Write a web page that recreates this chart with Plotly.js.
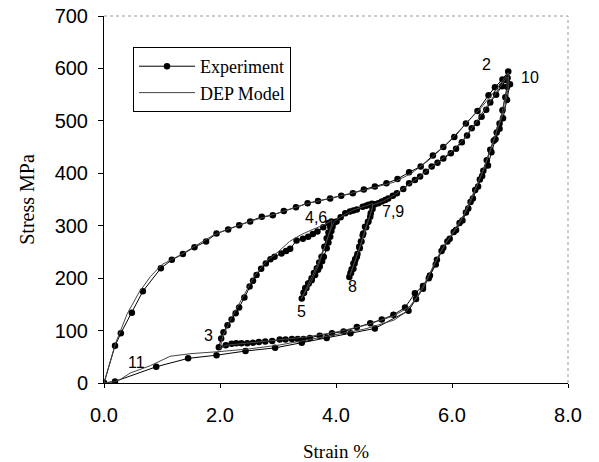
<!DOCTYPE html>
<html>
<head>
<meta charset="utf-8">
<script src="https://cdn.plot.ly/plotly-3.0.1.min.js"></script>
<style>html,body{margin:0;padding:0;background:#fff;}#chart{width:599px;height:462px;}</style>
</head>
<body>
<div id="chart"></div>
<script>
// Experiment: full load path 1 -> 2 -> 3 -> 4 -> 5 -> 6 -> 7 -> 8 -> 9 -> 10 -> 11
const expStrain = [
  // 1 -> 2 loading
  0,0.19,0.29,0.48,0.67,0.98,1.17,1.36,1.56,1.76,1.94,2.14,2.33,2.52,2.72,2.91,3.10,3.31,3.51,3.69,3.90,4.09,4.29,4.48,4.67,4.87,5.06,5.26,5.46,5.67,5.85,6.04,6.24,6.44,6.63,6.74,6.87,6.97,
  // 2 -> 3 unloading
  7.00,6.95,6.88,6.82,6.75,6.68,6.62,6.52,6.45,6.36,6.28,6.18,6.07,5.96,5.85,5.74,5.62,5.50,5.36,5.19,4.99,4.79,4.59,4.36,4.13,3.93,3.72,3.55,3.44,3.34,3.24,3.13,3.03,2.90,2.78,2.67,2.57,2.47,2.37,2.28,2.20,2.10,1.98,
  // 3 -> 4 reloading
  2.02,2.06,2.13,2.20,2.27,2.33,2.42,2.51,2.57,2.63,2.71,2.79,2.87,2.94,3.06,3.14,3.21,3.32,3.43,3.52,3.60,3.68,3.78,3.87,3.92,
  // 4 -> 5 unloading
  3.90,3.87,3.84,3.80,3.75,3.71,3.67,3.62,3.58,3.53,3.49,3.45,3.41,
  // 5 -> 6 reloading
  3.44,3.47,3.52,3.58,3.64,3.69,3.72,3.76,3.79,3.84,3.87,3.90,3.92,3.94,3.97,
  // 6 -> 7 loading
  4.01,4.08,4.16,4.24,4.30,4.36,4.46,4.52,4.56,4.62,
  // 7 -> 8 unloading
  4.63,4.59,4.55,4.50,4.46,4.43,4.40,4.36,4.33,4.30,4.27,4.25,4.23,
  // 8 -> 9 reloading
  4.26,4.30,4.32,4.33,4.37,4.41,4.44,4.47,4.52,4.56,4.60,4.64,
  // 9 -> 10 loading
  4.67,4.73,4.79,4.85,4.90,4.98,5.05,5.16,5.26,5.36,5.45,5.55,5.65,5.75,5.85,5.98,6.07,6.17,6.26,6.34,6.43,6.51,6.59,6.66,6.76,6.86,6.93,6.96,
  // 10 -> 11 unloading
  6.95,6.92,6.87,6.82,6.77,6.72,6.66,6.60,6.54,6.48,6.40,6.32,6.24,6.13,6.03,5.92,5.82,5.72,5.60,5.50,5.38,5.25,4.67,4.25,3.84,3.41,2.95,2.44,1.94,1.45,0.90,0.19,0
];
const expStress = [
  0,71,95,134,175,219,235,246,259,270,285,293,301,308,317,320,328,335,343,347,352,357,362,369,375,381,389,402,413,434,450,469,495,519,549,564,579,594,
  570,540,505,485,465,440,415,395,375,352,333,310,292,275,258,235,205,185,171,144,130,121,114,107,98,95,90,86,84,84,84,83,83,80,79,78,77,76,76,76,75,72,68,
  85,97,110,121,133,144,163,184,195,206,218,228,236,241,247,252,256,272,275,279,284,289,297,305,308,
  298,287,276,260,241,230,219,210,200,190,181,172,161,
  172,181,190,196,206,216,222,232,241,257,268,279,290,298,306,
  308,316,324,327,329,331,336,338,340,342,
  332,317,307,298,282,270,260,241,234,228,217,210,202,
  210,218,228,236,246,257,270,285,297,308,324,340,
  341,343,346,349,352,357,362,370,381,387,394,403,413,420,428,438,447,459,472,486,496,508,521,535,550,566,578,582,
  565,545,520,495,478,462,445,425,405,388,368,345,325,305,288,270,252,226,200,180,160,138,104,95,86,77,67,61,53,47,31,3,0
];

// DEP Model prediction
const modelStrain = [
  0,0.20,0.40,0.60,0.80,1.00,1.30,1.60,1.90,2.20,2.60,3.00,3.50,4.00,4.50,5.00,5.30,5.60,5.90,6.20,6.50,6.80,6.97,
  6.98,6.90,6.80,6.65,6.50,6.30,6.10,5.90,5.70,5.50,5.30,5.00,4.50,4.00,3.50,3.00,2.50,2.10,2.00,
  2.05,2.20,2.40,2.60,2.80,3.00,3.20,3.40,3.60,3.80,3.93,
  3.92,3.82,3.70,3.58,3.45,3.40,
  3.42,3.55,3.68,3.80,3.90,3.97,
  4.10,4.30,4.50,4.63,
  4.62,4.52,4.42,4.32,4.24,
  4.26,4.36,4.46,4.56,4.64,
  4.80,5.00,5.20,5.40,5.60,5.80,6.00,6.20,6.40,6.60,6.80,6.95,
  6.95,6.85,6.70,6.55,6.40,6.20,6.00,5.80,5.60,5.40,5.20,5.00,4.50,4.00,3.50,3.00,2.50,2.00,1.50,1.14,0.80,0.45,0.30,0.20,0
];
const modelStress = [
  0,76,132,172,203,226,243,263,283,296,311,324,342,355,368,383,400,425,455,490,525,565,592,
  570,520,488,440,395,340,298,268,228,180,148,128,110,97,88,82,76,72,65,
  90,125,165,205,232,250,270,283,293,302,310,
  300,265,225,195,170,160,
  165,195,225,258,290,308,
  318,330,337,342,
  330,300,262,230,205,
  210,240,275,310,340,
  346,358,374,390,408,425,442,465,495,528,560,584,
  560,510,455,408,370,320,285,250,205,165,135,120,103,92,82,72,65,60,56,51,33,19,8,3,0
];

// point labels
const labelText = ["2","10","4,6","7,9","5","8","3","11"];
const labelX = [6.59,7.34,3.65,4.99,3.41,4.28,1.81,0.56];
const labelY = [607,583,316,328,137,185,90,40];

const xTickVals = [0,2,4,6,8];
const xTickText = ["0.0","2.0","4.0","6.0","8.0"];
const yTickVals = [0,100,200,300,400,500,600,700];

const traces = [
  {x: expStrain, y: expStress, name: "Experiment", type: "scatter", mode: "lines+markers",
   line: {color: "#000", width: 1}, marker: {color: "#000", size: 6.5}},
  {x: modelStrain, y: modelStress, name: "DEP Model", type: "scatter", mode: "lines",
   line: {color: "#444", width: 1}}
];

const annotations = labelText.map((t, i) => ({
  x: labelX[i], y: labelY[i], xref: "x", yref: "y", text: t, showarrow: false,
  font: {family: "Liberation Sans, Arial", size: 16, color: "#000"}
}));

const layout = {
  width: 599, height: 462,
  margin: {l: 104, r: 31, t: 16, b: 79},
  paper_bgcolor: "#fff", plot_bgcolor: "#fff",
  showlegend: true,
  legend: {x: 0.0625, y: 0.9155, xanchor: "left", yanchor: "top",
    bordercolor: "#000", borderwidth: 1, bgcolor: "#fff",
    font: {family: "Liberation Serif, Times New Roman", size: 18, color: "#000"},
    itemwidth: 56, tracegroupgap: 0},
  xaxis: {range: [0, 8], tickvals: xTickVals, ticktext: xTickText,
    showgrid: false, zeroline: false, showline: true, linecolor: "#000", linewidth: 1,
    ticks: "outside", ticklen: 4, tickcolor: "#000", ticklabelstandoff: 10,
    tickfont: {family: "Liberation Sans, Arial", size: 20, color: "#000"},
    title: {text: "Strain %", font: {family: "Liberation Serif, Times New Roman", size: 19, color: "#000"}, standoff: 20}},
  yaxis: {range: [0, 700], tickvals: yTickVals,
    showgrid: false, zeroline: false, showline: true, linecolor: "#000", linewidth: 1,
    ticks: "outside", ticklen: 5, tickcolor: "#000", ticklabelstandoff: 6,
    tickfont: {family: "Liberation Sans, Arial", size: 20, color: "#000"},
    title: {text: "Stress MPa", font: {family: "Liberation Serif, Times New Roman", size: 20, color: "#000"}, standoff: 14}},
  shapes: [
    {type: "line", xref: "paper", yref: "paper", x0: 0, x1: 1, y0: 1, y1: 1, line: {color: "#999", width: 1, dash: "dot"}},
    {type: "line", xref: "paper", yref: "paper", x0: 1, x1: 1, y0: 0, y1: 1, line: {color: "#999", width: 1, dash: "dot"}}
  ],
  annotations: annotations
};

Plotly.newPlot("chart", traces, layout, {displayModeBar: false, staticPlot: true});
</script>
</body>
</html>
